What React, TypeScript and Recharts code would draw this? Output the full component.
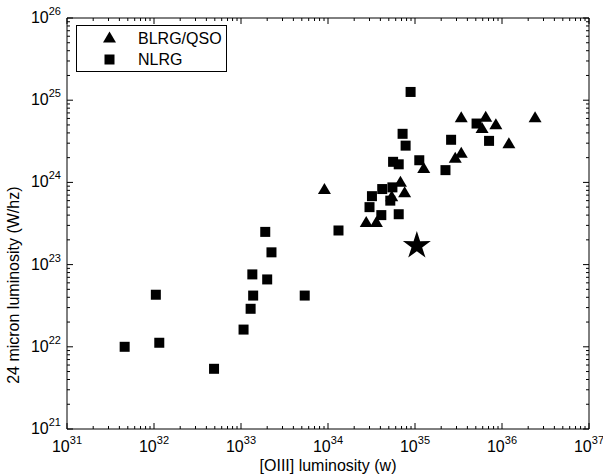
import React from 'react';
import { ScatterChart, Scatter, XAxis, YAxis, Legend } from 'recharts';

// [OIII] luminosity (w) vs 24 micron luminosity (W/hz)
const blrgX = [9.1e33, 3.4e35, 6.5e35, 5.9e35, 8.5e35, 2.4e36, 1.2e36, 3.4e35, 2.9e35, 1.26e35, 6.8e34, 7.6e34, 5.4e34, 2.75e34, 3.6e34];
const blrgY = [8.3e23, 6.2e24, 6.3e24, 4.6e24, 5.1e24, 6.2e24, 3.0e24, 2.3e24, 2.0e24, 1.5e24, 1.02e24, 7.6e23, 6.8e23, 3.3e23, 3.3e23];

const nlrgX = [
  4.6e31, 1.05e32, 1.15e32, 4.9e32, 1.07e33, 1.29e33, 1.38e33, 1.35e33, 2.0e33, 1.9e33, 2.24e33, 5.4e33, 1.32e34,
  8.9e34, 7.2e34, 7.8e34, 5.6e34, 6.5e34, 1.12e35, 2.6e35, 2.24e35, 5.1e35, 7.1e35,
  4.2e34, 5.5e34, 3.2e34, 5.2e34, 3.0e34, 4.1e34, 6.5e34,
];
const nlrgY = [
  1.0e22, 4.3e22, 1.12e22, 5.4e21, 1.62e22, 2.9e22, 4.2e22, 7.6e22, 6.6e22, 2.5e23, 1.41e23, 4.2e22, 2.6e23,
  1.26e25, 3.9e24, 2.8e24, 1.78e24, 1.66e24, 1.86e24, 3.3e24, 1.41e24, 5.2e24, 3.2e24,
  8.3e23, 8.7e23, 6.8e23, 6.0e23, 5.0e23, 4.0e23, 4.1e23,
];

const starX = [1.05e35];
const starY = [1.7e23];

const xMajor = [1e31, 1e32, 1e33, 1e34, 1e35, 1e36, 1e37];
const yMajor = [1e21, 1e22, 1e23, 1e24, 1e25, 1e26];

const withMinor = (major: number[]) => {
  const out: number[] = [];
  major.forEach((m, i) => {
    out.push(m);
    if (i < major.length - 1) for (let k = 2; k <= 9; k++) out.push(m * k);
  });
  return out;
};
const xTicks = withMinor(xMajor);
const yTicks = withMinor(yMajor);

const blrg = blrgX.map((x, i) => ({ x, y: blrgY[i] }));
const nlrg = nlrgX.map((x, i) => ({ x, y: nlrgY[i] }));
const star = starX.map((x, i) => ({ x, y: starY[i] }));

const FONT = '"Liberation Sans", Arial, sans-serif';

const LogTick = (props: any) => {
  const { x, y, payload, side } = props;
  const lg = Math.log10(payload.value);
  const e = Math.round(lg);
  const major = Math.abs(lg - e) < 1e-6;
  const len = major ? 6 : 3;
  let l = [x, y, x, y];
  if (side === 'bottom') l = [x, y, x, y - len];
  if (side === 'top') l = [x, y, x, y + len];
  if (side === 'left') l = [x, y, x + len, y];
  if (side === 'right') l = [x, y, x - len, y];
  return (
    <g>
      <line x1={l[0]} y1={l[1]} x2={l[2]} y2={l[3]} stroke="#000" strokeWidth={1} />
      {major && side === 'bottom' && (
        <text x={x} y={y + 23} textAnchor="middle" fontFamily={FONT} fontSize={16} fill="#000">
          <tspan>10</tspan>
          <tspan dy={-8} fontSize={11}>{e}</tspan>
        </text>
      )}
      {major && side === 'left' && (
        <text x={x - 6} y={y + 5} textAnchor="end" fontFamily={FONT} fontSize={16} fill="#000">
          <tspan>10</tspan>
          <tspan dy={-8} fontSize={11}>{e}</tspan>
        </text>
      )}
    </g>
  );
};

const Triangle = (p: any) => (
  <polygon points={`${p.cx},${p.cy - 6} ${p.cx + 6.5},${p.cy + 5} ${p.cx - 6.5},${p.cy + 5}`} fill="#000" />
);
const Square = (p: any) => <rect x={p.cx - 5} y={p.cy - 5} width={10} height={10} fill="#000" />;
const Star = (p: any) => {
  const pts: string[] = [];
  for (let i = 0; i < 10; i++) {
    const r = i % 2 === 0 ? 14.7 : 5.6;
    const a = -Math.PI / 2 + (i * Math.PI) / 5;
    pts.push(`${p.cx + r * Math.cos(a)},${p.cy + r * Math.sin(a)}`);
  }
  return <polygon points={pts.join(' ')} fill="#000" />;
};

const LegendBox = () => (
  <svg width={151} height={47} style={{ display: 'block' }}>
    <rect x={0.5} y={0.5} width={150} height={46} fill="#fff" stroke="#000" />
    <Triangle cx={33.5} cy={12.5} />
    <Square cx={33.5} cy={34.5} />
    <text x={62} y={18.5} fontFamily={FONT} fontSize={16} fill="#000">BLRG/QSO</text>
    <text x={62} y={40} fontFamily={FONT} fontSize={16} fill="#000">NLRG</text>
  </svg>
);

// the y title sits low on the left edge, as in the source figure
const YTitle = (props: any) => {
  const vb = props.viewBox || {};
  const cx = 19;
  const cy = vb.y + vb.height * 0.65;
  return (
    <text x={cx} y={cy} transform={`rotate(-90 ${cx} ${cy})`} textAnchor="middle" fontFamily={FONT} fontSize={16} fill="#000">
      24 micron luminosity (W/hz)
    </text>
  );
};

const XTitle = (props: any) => {
  const vb = props.viewBox || {};
  return (
    <text x={vb.x + vb.width / 2} y={471} textAnchor="middle" fontFamily={FONT} fontSize={16} fill="#000">
      [OIII] luminosity (w)
    </text>
  );
};

export default function App() {
  return (
    <div style={{ position: 'absolute', left: 0, top: 0, background: '#fff' }}>
      <ScatterChart width={603} height={476} margin={{ top: 18, right: 14, bottom: 0, left: 0 }}>
        <XAxis
          dataKey="x"
          type="number"
          scale="log"
          domain={[1e31, 1e37]}
          allowDataOverflow
          ticks={xTicks}
          interval={0}
          height={47}
          tickSize={0}
          tickMargin={0}
          tickLine={false}
          axisLine={{ stroke: '#000' }}
          tick={(p: any) => <LogTick {...p} side="bottom" />}
          label={<XTitle />}
        />
        <XAxis
          xAxisId="top"
          orientation="top"
          mirror
          dataKey="x"
          type="number"
          scale="log"
          domain={[1e31, 1e37]}
          allowDataOverflow
          ticks={xTicks}
          interval={0}
          tickSize={0}
          tickMargin={0}
          tickLine={false}
          axisLine={{ stroke: '#000' }}
          tick={(p: any) => <LogTick {...p} side="top" />}
        />
        <YAxis
          dataKey="y"
          type="number"
          scale="log"
          domain={[1e21, 1e26]}
          allowDataOverflow
          ticks={yTicks}
          interval={0}
          width={67}
          tickSize={0}
          tickMargin={0}
          tickLine={false}
          axisLine={{ stroke: '#000' }}
          tick={(p: any) => <LogTick {...p} side="left" />}
          label={<YTitle />}
        />
        <YAxis
          yAxisId="right"
          orientation="right"
          mirror
          dataKey="y"
          type="number"
          scale="log"
          domain={[1e21, 1e26]}
          allowDataOverflow
          ticks={yTicks}
          interval={0}
          tickSize={0}
          tickMargin={0}
          tickLine={false}
          axisLine={{ stroke: '#000' }}
          tick={(p: any) => <LogTick {...p} side="right" />}
        />
        <Legend
          layout="vertical"
          align="center"
          verticalAlign="middle"
          wrapperStyle={{ position: 'absolute', top: 25, left: 76, width: 151 }}
          content={() => <LegendBox />}
        />
        <Scatter name="BLRG/QSO" data={blrg} shape={(p: any) => <Triangle cx={p.cx} cy={p.cy} />} isAnimationActive={false} />
        <Scatter name="NLRG" data={nlrg} shape={(p: any) => <Square cx={p.cx} cy={p.cy} />} isAnimationActive={false} />
        <Scatter name="star" data={star} shape={(p: any) => <Star cx={p.cx} cy={p.cy} />} isAnimationActive={false} />
      </ScatterChart>
    </div>
  );
}
